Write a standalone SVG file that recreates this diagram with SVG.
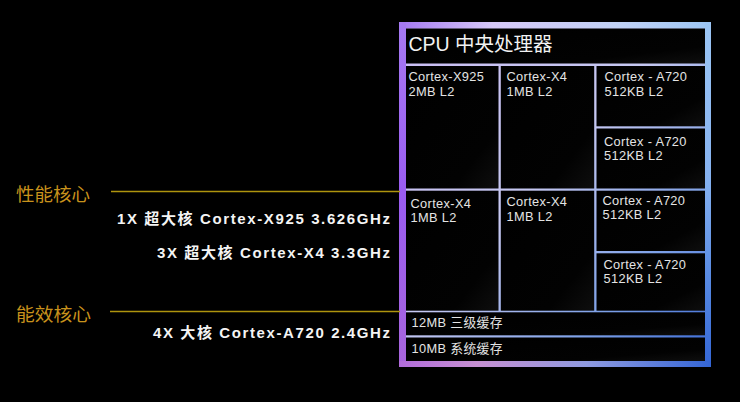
<svg xmlns="http://www.w3.org/2000/svg" width="740" height="402" viewBox="0 0 740 402">
  <defs>
    <linearGradient id="gapG" x1="0" y1="0" x2="1" y2="1">
      <stop offset="0" stop-color="#cbbdf4"/>
      <stop offset="0.45" stop-color="#c6c8f2"/>
      <stop offset="0.75" stop-color="#7fa2e8"/>
      <stop offset="1" stop-color="#3a6ad6"/>
    </linearGradient>
    <linearGradient id="topG" x1="0" y1="0" x2="1" y2="0">
      <stop offset="0" stop-color="#a478f2"/>
      <stop offset="0.3" stop-color="#d6c8f8"/>
      <stop offset="0.7" stop-color="#c2d2f6"/>
      <stop offset="1" stop-color="#9cc6f5"/>
    </linearGradient>
    <linearGradient id="leftG" x1="0" y1="0" x2="0" y2="1">
      <stop offset="0" stop-color="#a67af2"/>
      <stop offset="0.5" stop-color="#9a5cf0"/>
      <stop offset="1" stop-color="#a865dc"/>
    </linearGradient>
    <linearGradient id="rightG" x1="0" y1="0" x2="0" y2="1">
      <stop offset="0" stop-color="#9cc6f5"/>
      <stop offset="0.45" stop-color="#86b2f0"/>
      <stop offset="0.8" stop-color="#4f82e0"/>
      <stop offset="1" stop-color="#3466d6"/>
    </linearGradient>
    <linearGradient id="botG" x1="0" y1="0" x2="1" y2="0">
      <stop offset="0" stop-color="#b26cdc"/>
      <stop offset="0.25" stop-color="#c690d2"/>
      <stop offset="0.6" stop-color="#8f9ae0"/>
      <stop offset="1" stop-color="#3466d6"/>
    </linearGradient>
    <linearGradient id="cellG" x1="0" y1="0" x2="1" y2="1">
      <stop offset="0" stop-color="#000000"/>
      <stop offset="0.75" stop-color="#020202"/>
      <stop offset="1" stop-color="#0e0e0e"/>
    </linearGradient>
    <style>
      .cell { fill: url(#cellG); }
      .ct { font-family: "Liberation Sans", "Noto Sans CJK SC", sans-serif; font-size: 12.8px; letter-spacing: 0.35px; fill: #e4e4e4; }
      .title { font-family: "Liberation Sans", "Noto Sans CJK SC", sans-serif; font-size: 19.5px; fill: #f2f2f2; }
      .gold { font-family: "Noto Sans CJK SC", sans-serif; font-size: 18.5px; fill: #c8921c; }
      .spec { font-family: "Liberation Sans", "Noto Sans CJK SC", sans-serif; font-size: 15px; font-weight: bold; fill: #f4f4f4; }
      .lead { stroke: #ae940e; stroke-width: 1.4; fill: none; }
    </style>
  </defs>
  <rect width="740" height="402" fill="#000000"/>

  <g id="cpu-frame">
    <rect x="404" y="27" width="302" height="335" fill="url(#gapG)"/>
    <rect x="399" y="22" width="312" height="6.5" fill="url(#topG)"/>
    <rect x="399" y="22" width="7" height="345" fill="url(#leftG)"/>
    <rect x="705" y="22" width="6" height="345" fill="url(#rightG)"/>
    <rect x="399" y="361" width="312" height="6" fill="url(#botG)"/>
  </g>

  <g id="title">
    <rect class="cell" x="406" y="28.5" width="299" height="35"/>
    <text class="title" x="408.5" y="51">CPU 中央处理器</text>
  </g>

  <g id="x925">
    <rect class="cell" x="406" y="66" width="92.5" height="122.5"/>
    <text class="ct" x="408.5" y="81">Cortex-X925</text>
    <text class="ct" x="408.5" y="95.5">2MB L2</text>
  </g>
  <g id="x4-a">
    <rect class="cell" x="500.8" y="66" width="93.4" height="122.5"/>
    <text class="ct" x="506.5" y="81">Cortex-X4</text>
    <text class="ct" x="506.5" y="95.5">1MB L2</text>
  </g>
  <g id="a720-a">
    <rect class="cell" x="596.5" y="66" width="108.5" height="60.3"/>
    <text class="ct" x="604.5" y="81">Cortex - A720</text>
    <text class="ct" x="604.5" y="95.5">512KB L2</text>
  </g>
  <g id="a720-b">
    <rect class="cell" x="596.5" y="128.5" width="108.5" height="60"/>
    <text class="ct" x="604" y="145.5">Cortex - A720</text>
    <text class="ct" x="604" y="160">512KB L2</text>
  </g>

  <g id="x4-b">
    <rect class="cell" x="406" y="190.7" width="92.5" height="120"/>
    <text class="ct" x="410.5" y="207.5">Cortex-X4</text>
    <text class="ct" x="410.5" y="222">1MB L2</text>
  </g>
  <g id="x4-c">
    <rect class="cell" x="500.8" y="190.7" width="93.4" height="120"/>
    <text class="ct" x="506.5" y="206">Cortex-X4</text>
    <text class="ct" x="506.5" y="220.5">1MB L2</text>
  </g>
  <g id="a720-c">
    <rect class="cell" x="596.5" y="190.7" width="108.5" height="60.3"/>
    <text class="ct" x="602.5" y="204.5">Cortex - A720</text>
    <text class="ct" x="602.5" y="219">512KB L2</text>
  </g>
  <g id="a720-d">
    <rect class="cell" x="596.5" y="253.3" width="108.5" height="57.4"/>
    <text class="ct" x="603.5" y="268.5">Cortex - A720</text>
    <text class="ct" x="603.5" y="283">512KB L2</text>
  </g>

  <g id="l3">
    <rect class="cell" x="406" y="312.3" width="299" height="23"/>
    <text class="ct" x="411.5" y="327">12MB 三级缓存</text>
  </g>
  <g id="slc">
    <rect class="cell" x="406" y="337.5" width="299" height="23.5"/>
    <text class="ct" x="411.5" y="353">10MB 系统缓存</text>
  </g>

  <g id="perf-label">
    <text class="gold" x="16" y="201" textLength="74" lengthAdjust="spacingAndGlyphs">性能核心</text>
    <text class="spec" x="117" y="224" textLength="273" lengthAdjust="spacing">1X 超大核 Cortex-X925 3.626GHz</text>
    <text class="spec" x="157" y="257.5" textLength="233" lengthAdjust="spacing">3X 超大核 Cortex-X4 3.3GHz</text>
  </g>
  <g id="eff-label">
    <text class="gold" x="16" y="320.5" textLength="75" lengthAdjust="spacingAndGlyphs">能效核心</text>
    <text class="spec" x="153" y="338" textLength="237" lengthAdjust="spacing">4X 大核 Cortex-A720 2.4GHz</text>
  </g>

  <g id="connectors">
    <line class="lead" x1="111" y1="191.5" x2="400" y2="191.5"/>
    <line class="lead" x1="110" y1="311.5" x2="400" y2="311.5"/>
  </g>
</svg>
